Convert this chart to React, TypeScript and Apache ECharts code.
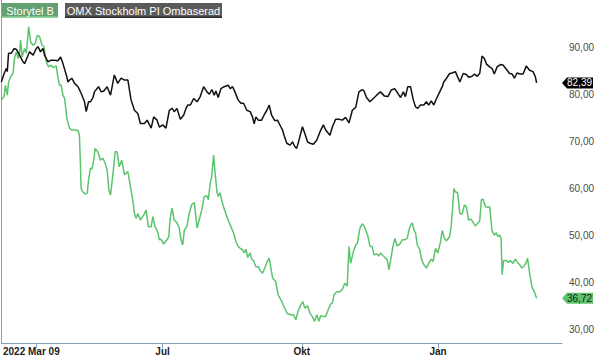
import React, { useEffect, useRef } from 'react';
import * as echarts from 'echarts';

const storytelName = 'Storytel B';
const omxName = 'OMX Stockholm PI Ombaserad';

// x axis: trading days since 2022-03-09
const axisDays = 265;
const tickDays = [16.3, 76.2, 142, 206.4];
const tickLabels = ['2022 Mar 09', 'Jul', 'Okt', 'Jan'];
const yTicks = [30, 40, 50, 60, 70, 80, 90];
const yMin = 27.2;
const yMax = 100;

const omxDays = [0,1.3,2.4,2.8,3.4,4.7,6.0,7.1,8.6,10.2,
11.0,12.3,13.3,15.0,16.5,17.3,18.5,19.7,20.4,22.0,
23.3,25.1,26.7,28.0,29.1,30.7,31.5,32.2,33.3,34.6,
36.2,37.7,39.3,40.1,41.2,42.1,43.3,44.0,45.9,47.2,
48.4,50.0,51.6,53.4,55.0,56.6,58.2,59.8,61.3,62.9,
64.5,65.7,67.6,68.9,70.8,72.0,73.6,74.7,76.3,77.8,
79.4,80.7,81.7,83.0,84.6,86.2,87.3,88.1,89.3,90.9,
92.5,94.0,95.6,97.2,98.3,99.5,100.6,101.4,102.5,103.8,
105.3,107.2,108.2,109.3,110.4,111.9,113.2,114.5,116.0,117.6,
118.7,119.5,120.3,121.4,123.0,124.2,125.5,126.6,127.7,129.2,
130.5,132.1,132.9,133.6,134.9,136.5,137.6,138.7,139.6,140.7,
142.3,143.4,144.7,145.9,147.5,149.1,150.6,152.2,153.3,155.3,
156.5,158.0,159.6,161.2,162.7,164.3,165.9,167.5,169.0,170.6,
171.4,172.6,174.2,175.8,177.4,179.2,181.1,182.7,184.3,185.9,
187.4,188.7,190.0,191.0,192.1,193.4,194.7,195.8,196.8,198.1,
199.7,200.9,202.0,203.2,204.4,205.7,207.2,208.4,209.1,210.4,
211.9,213.1,214.6,216.7,218.3,219.8,220.9,222.5,223.6,224.9,
226.1,227.2,228.3,229.3,230.8,231.9,233.0,234.3,235.9,237.1,
238.7,240.2,241.4,242.5,243.7,245.3,246.6,248.1,249.7,251.3,
252.4,253.0];

const omxValues = [82.6,84.4,85.5,84.8,88.7,88.7,89.7,89.5,88.3,86.9,
86.5,87.9,89.0,88.3,89.7,90.1,89.0,89.7,88.3,86.9,
87.2,87.2,87.1,87.9,86.5,84.1,82.6,83.0,83.4,82.3,
81.6,80.2,78.4,76.3,78.4,78.4,79.3,80.5,81.6,80.5,
80.7,81.6,79.8,84.1,82.3,83.4,83.0,83.0,78.8,76.6,
75.9,73.8,73.8,74.5,72.8,75.2,74.5,73.0,73.5,72.8,
76.6,77.0,76.3,77.0,74.7,75.6,77.0,77.7,77.7,79.1,
78.4,79.5,81.6,80.5,80.0,81.0,79.8,80.7,79.3,81.2,
81.6,81.9,81.2,81.6,80.5,78.8,78.1,78.1,76.6,76.3,
75.2,73.7,75.2,74.5,74.5,75.6,76.6,77.7,75.6,74.4,
74.5,73.1,72.4,71.3,69.6,69.2,69.9,68.9,68.5,70.3,
73.1,71.7,69.9,69.6,69.4,70.3,72.0,73.5,72.4,71.3,
73.1,74.7,74.7,74.5,75.1,73.9,76.6,77.2,80.5,81.0,
80.7,79.3,78.4,79.1,79.8,80.5,79.6,79.5,80.9,81.2,
80.2,79.3,80.5,79.5,81.6,81.6,78.8,77.3,77.0,77.7,
77.7,78.4,77.7,78.6,77.7,79.1,80.5,81.6,82.6,83.4,
84.4,84.5,84.8,82.6,84.4,84.2,83.6,83.8,84.3,83.8,
84.4,88.1,87.6,86.4,85.8,85.5,84.3,85.8,86.3,86.2,
85.3,84.4,84.3,83.4,84.5,84.3,84.3,86.0,85.1,84.8,
83.7,82.39];

const storytelDays = [0,1.3,1.9,2.8,3.4,4.4,5.5,6.3,7.1,7.9,
8.6,9.1,9.8,11.0,11.8,12.9,13.8,15.0,16.0,17.0,
18.1,19.2,20.1,21.2,22.3,23.3,24.4,25.1,25.9,26.7,
27.5,28.3,29.1,29.9,31.1,32.2,33.3,34.6,36.2,36.9,
37.4,37.7,38.5,39.6,40.6,41.2,42.1,42.8,43.7,44.3,
45.6,46.8,48.0,49.1,50.0,50.8,51.6,52.7,53.8,54.7,
55.7,56.9,58.2,59.8,61.0,62.1,62.9,63.7,64.5,65.7,
67.3,68.4,69.5,70.8,71.6,72.6,73.9,74.7,75.5,76.7,
78.3,79.1,79.9,80.7,81.7,83.0,84.1,84.9,85.7,86.5,
87.7,88.8,90.0,91.2,92.5,93.5,94.7,95.9,97.2,97.8,
98.7,99.4,100.3,100.9,101.9,102.5,103.4,104.1,105.0,106.1,
107.2,108.5,109.8,110.9,111.9,112.9,114.0,114.8,115.6,116.4,
117.6,118.3,119.2,120.3,121.4,122.3,123.4,124.5,125.5,126.6,
127.4,128.2,129.7,130.8,132.1,133.6,135.2,136.8,138.1,139.2,
140.2,141.5,142.5,143.4,144.7,145.9,147.0,148.1,149.1,150.1,
150.9,152.2,153.3,154.4,155.7,156.5,157.2,158.5,160.1,161.2,
162.3,163.5,164.3,165.1,166.4,167.5,168.3,169.5,170.6,171.1,
172.2,173.3,174.2,175.3,176.1,177.4,178.5,179.2,180.5,181.6,
182.4,183.2,184.0,185.1,186.0,187.1,188.3,189.5,190.6,191.8,
193.1,194.2,195.0,195.8,196.6,197.8,198.6,199.7,200.9,202.0,
203.2,204.1,205.2,206.3,207.5,208.4,209.4,210.4,211.9,212.6,
213.2,213.9,214.6,215.7,216.7,217.8,218.9,219.8,220.9,222.0,
223.3,224.1,225.1,226.1,226.9,227.7,228.8,229.9,230.8,231.9,
233.0,234.0,234.6,235.5,236.2,236.7,237.4,238.7,239.8,240.6,
241.8,242.9,244.0,245.0,246.1,247.2,248.1,248.7,249.7,250.8,
251.9,253.0];

const storytelValues = [78.8,79.5,81.9,79.8,82.6,83.7,84.4,87.9,89.0,87.6,
88.7,91.5,87.9,89.7,88.7,94.3,91.1,90.4,90.8,92.5,
92.2,90.4,90.1,86.9,85.8,86.2,85.7,85.8,86.0,83.7,
81.9,81.9,79.8,79.1,74.5,72.8,72.4,72.4,72.3,71.3,
64.6,60.0,59.3,58.8,59.0,61.8,64.3,64.1,66.0,68.5,
67.8,66.0,66.4,65.3,63.9,59.7,58.6,62.9,67.8,67.8,
64.6,66.0,62.9,63.6,60.4,57.6,54.7,53.7,54.7,53.3,
54.4,55.4,51.9,51.9,54.0,51.9,50.8,49.1,49.2,48.2,
49.1,49.8,54.0,55.8,53.3,52.7,51.6,49.1,48.0,51.2,
51.9,54.7,56.6,57.0,51.6,53.3,55.4,58.3,58.4,57.6,
61.1,62.5,67.1,63.9,59.3,58.3,59.1,57.6,56.1,54.7,
53.3,51.9,50.5,48.7,47.7,47.3,47.0,46.3,47.1,45.4,
46.3,45.0,44.7,43.4,43.4,42.6,42.0,43.1,44.3,45.2,
43.1,41.0,40.2,37.4,36.4,34.9,33.4,33.2,33.2,32.1,
33.9,35.3,36.0,34.6,35.1,33.5,32.8,31.8,33.2,31.8,
33.0,32.8,32.8,34.2,35.5,35.7,37.4,38.1,38.1,38.6,
39.9,39.3,47.7,44.1,46.6,48.0,48.4,51.6,52.5,52.3,
51.2,49.8,47.7,47.7,45.9,46.1,45.7,46.3,45.7,45.2,
44.8,42.7,44.8,47.7,49.4,47.8,48.2,49.1,49.1,49.4,
51.9,52.7,51.2,50.5,48.0,47.0,45.0,43.8,43.1,44.1,
45.0,44.5,47.3,46.3,48.5,51.1,49.4,48.9,49.8,51.9,
55.4,60.0,59.3,59.1,54.7,54.6,56.5,56.1,53.3,53.5,
52.6,52.0,52.6,53.1,57.6,57.7,56.1,56.0,56.1,51.1,
50.1,50.6,49.8,50.1,49.4,41.7,44.7,44.7,44.3,44.7,
44.1,45.0,44.3,43.8,43.1,43.6,44.3,45.2,42.0,39.1,
38.1,36.72];

const FONT = '"Liberation Sans", Arial, sans-serif';
const AXIS_COLOR = '#7f9dba';
const GREEN = '#5cc46d';
const BLACK = '#111111';

const fmt = (v: number) => v.toFixed(2).replace('.', ',');

function tagMarker(value: number, bg: string, fg: string) {
  return {
    symbol: 'path://M0,5L5,0L31,0L31,10L5,10Z',
    symbolSize: [31, 11],
    symbolOffset: [15.5, 0],
    symbolKeepAspect: false,
    silent: true,
    itemStyle: { color: bg },
    label: {
      show: true,
      position: 'inside',
      offset: [2, 0],
      formatter: () => fmt(value),
      color: fg,
      fontSize: 10,
      fontFamily: FONT,
    },
    data: [{ coord: [axisDays, value], value }],
  };
}

export default function App() {
  const ref = useRef<HTMLDivElement>(null);
  useEffect(() => {
    if (!ref.current) return;
    const chart = echarts.init(ref.current, undefined, { renderer: 'svg' });
    const storytelData = storytelDays.map((d, i) => [d, storytelValues[i]]);
    const omxData = omxDays.map((d, i) => [d, omxValues[i]]);
    const lastStorytel = storytelValues[storytelValues.length - 1];
    const lastOmx = omxValues[omxValues.length - 1];

    chart.setOption({
      animation: false,
      backgroundColor: '#ffffff',
      grid: { left: 0, top: 0, right: 38, bottom: 15, containLabel: false },
      xAxis: {
        type: 'value',
        min: 0,
        max: axisDays,
        splitLine: { show: false },
        axisLine: { show: true, onZero: false, lineStyle: { color: AXIS_COLOR, width: 1 } },
        axisTick: {
          show: true,
          customValues: tickDays,
          length: 5,
          lineStyle: { color: AXIS_COLOR },
        },
        axisLabel: {
          customValues: tickDays,
          margin: 3,
          fontSize: 10,
          fontWeight: 'bold',
          fontFamily: FONT,
          color: '#222',
          formatter: (v: number) => {
            let best = 0;
            tickDays.forEach((t, i) => {
              if (Math.abs(t - v) < Math.abs(tickDays[best] - v)) best = i;
            });
            return best === 0 ? `{first|${tickLabels[0]}}` : tickLabels[best];
          },
          rich: {
            first: {
              fontSize: 10,
              fontWeight: 'bold',
              fontFamily: FONT,
              color: '#222',
              padding: [0, 9, 0, 0],
            },
          },
        },
      },
      yAxis: {
        type: 'value',
        position: 'right',
        min: yMin,
        max: yMax,
        splitLine: { show: false },
        axisLine: { show: true, lineStyle: { color: AXIS_COLOR, width: 1 } },
        axisTick: { show: false },
        axisLabel: {
          customValues: yTicks,
          margin: 7,
          fontSize: 10,
          fontFamily: FONT,
          color: '#4a4a4a',
          formatter: (v: number) => fmt(v),
        },
      },
      series: [
        {
          name: storytelName,
          type: 'line',
          data: storytelData,
          showSymbol: false,
          symbol: 'none',
          lineStyle: { color: GREEN, width: 1.5 },
          itemStyle: { color: GREEN },
          emphasis: { disabled: true },
          markPoint: tagMarker(lastStorytel, GREEN, '#1a1a1a'),
        },
        {
          name: omxName,
          type: 'line',
          data: omxData,
          showSymbol: false,
          symbol: 'none',
          lineStyle: { color: BLACK, width: 1.5 },
          itemStyle: { color: BLACK },
          emphasis: { disabled: true },
          markPoint: tagMarker(lastOmx, '#000000', '#ffffff'),
        },
      ],
      graphic: [
        { type: 'rect', shape: { x: 2, y: 3, width: 56, height: 14 }, style: { fill: '#63a171' }, silent: true },
        { type: 'rect', shape: { x: 2, y: 16.5, width: 56, height: 1.5 }, style: { fill: '#8fdc9c' }, silent: true },
        {
          type: 'text', x: 30, y: 10.5, silent: true,
          style: { text: storytelName, fill: '#ffffff', font: `11px ${FONT}`, align: 'center', verticalAlign: 'middle' },
        },
        { type: 'rect', shape: { x: 65, y: 3, width: 157, height: 15 }, style: { fill: '#5a5a5a' }, silent: true },
        { type: 'rect', shape: { x: 65, y: 16.5, width: 157, height: 1.5 }, style: { fill: '#2a2a2a' }, silent: true },
        {
          type: 'text', x: 143.5, y: 10.5, silent: true,
          style: { text: omxName, fill: '#ffffff', font: `11px ${FONT}`, align: 'center', verticalAlign: 'middle' },
        },
      ],
    });
    return () => chart.dispose();
  }, []);

  return (
    <div
      ref={ref}
      style={{ position: 'fixed', left: 0, top: 0, width: 600, height: 358, background: '#fff' }}
    />
  );
}
